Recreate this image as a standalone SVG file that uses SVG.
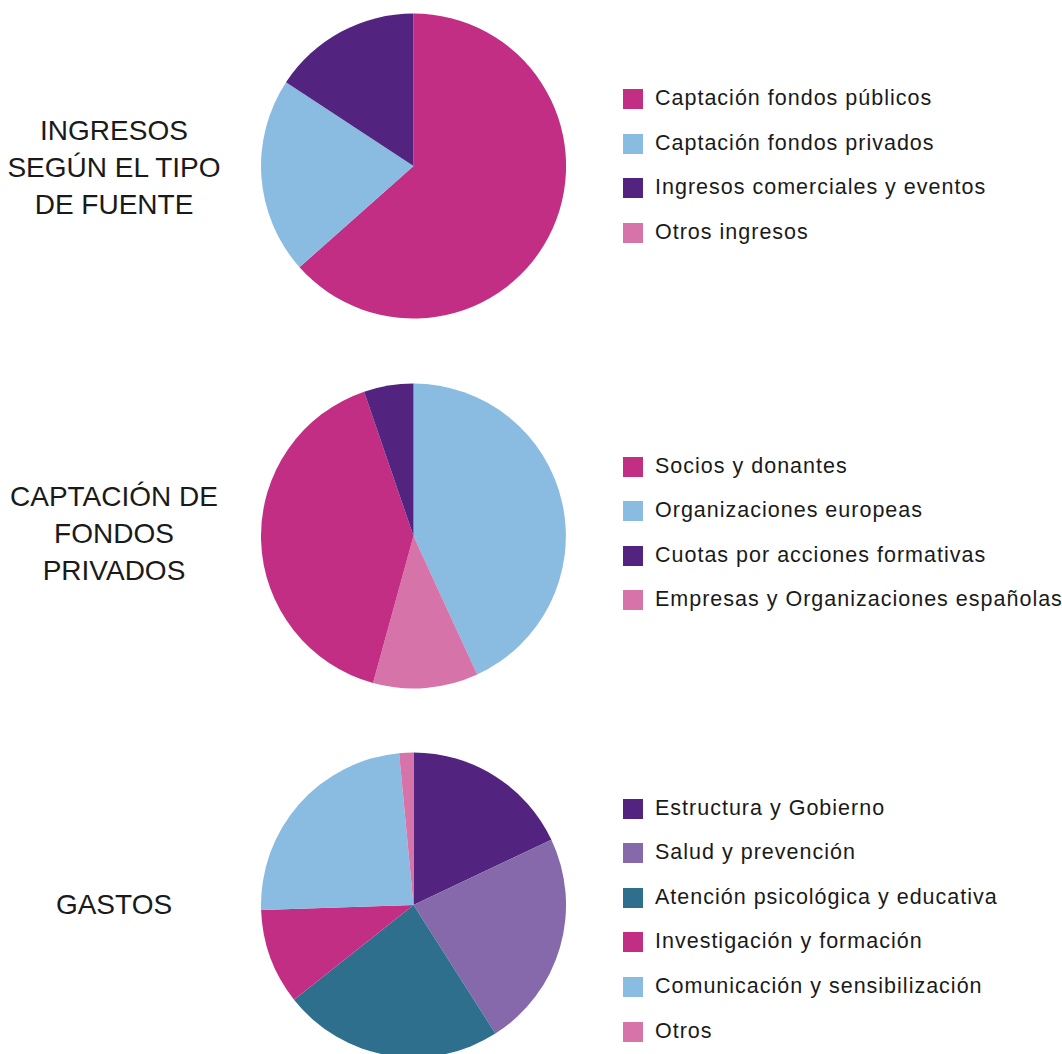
<svg xmlns="http://www.w3.org/2000/svg" width="1062" height="1054" viewBox="0 0 1062 1054">
<style>
.t{font-family:"Liberation Sans",Arial,sans-serif;fill:#1a1a1a}
.title{font-size:28px;text-anchor:middle}
.lg{font-size:21.5px;letter-spacing:1px}
.mg{fill:#C32E85}.lb{fill:#8ABBE0}.pu{fill:#52247F}.pk{fill:#D673A8}.lv{fill:#8569AB}.tl{fill:#2E6F8E}
</style>
<rect width="1062" height="1054" fill="#fff"/>

<g id="title-ingresos">
<text class="t title" x="114" y="140">INGRESOS</text>
<text class="t title" x="114" y="177">SEGÚN EL TIPO</text>
<text class="t title" x="114" y="214">DE FUENTE</text>
</g>
<g id="title-captacion">
<text class="t title" x="114" y="506">CAPTACIÓN DE</text>
<text class="t title" x="114" y="543">FONDOS</text>
<text class="t title" x="114" y="580">PRIVADOS</text>
</g>
<g id="title-gastos">
<text class="t title" x="114" y="914">GASTOS</text>
</g>

<g id="pie-ingresos">
<path class="mg" d="M413.5,166 L413.5,13.5 A152.5,152.5 0 1 1 299.5,267.2 Z"/>
<path class="lb" d="M413.5,166 L299.5,267.2 A152.5,152.5 0 0 1 286,82.3 Z"/>
<path class="pu" d="M413.5,166 L286,82.3 A152.5,152.5 0 0 1 413.5,13.5 Z"/>
</g>

<g id="pie-captacion">
<path class="lb" d="M413.5,536 L413.5,383.5 A152.5,152.5 0 0 1 477.2,674.5 Z"/>
<path class="pk" d="M413.5,536 L477.2,674.5 A152.5,152.5 0 0 1 373,683 Z"/>
<path class="mg" d="M413.5,536 L373,683 A152.5,152.5 0 0 1 364.1,391.7 Z"/>
<path class="pu" d="M413.5,536 L364.1,391.7 A152.5,152.5 0 0 1 413.5,383.5 Z"/>
</g>

<g id="pie-gastos">
<path class="pu" d="M413.5,905 L413.5,752.5 A152.5,152.5 0 0 1 551.4,839.8 Z"/>
<path class="lv" d="M413.5,905 L551.4,839.8 A152.5,152.5 0 0 1 495.4,1033.6 Z"/>
<path class="tl" d="M413.5,905 L495.4,1033.6 A152.5,152.5 0 0 1 294,999.7 Z"/>
<path class="mg" d="M413.5,905 L294,999.7 A152.5,152.5 0 0 1 261.1,910.1 Z"/>
<path class="lb" d="M413.5,905 L261.1,910.1 A152.5,152.5 0 0 1 399.1,753.2 Z"/>
<path class="pk" d="M413.5,905 L399.1,753.2 A152.5,152.5 0 0 1 413.5,752.5 Z"/>
</g>

<g id="legend-ingresos">
<rect class="mg" x="623" y="89" width="20" height="20"/><text class="t lg" x="655" y="105">Captación fondos públicos</text>
<rect class="lb" x="623" y="134" width="20" height="20"/><text class="t lg" x="655" y="150">Captación fondos privados</text>
<rect class="pu" x="623" y="178" width="20" height="20"/><text class="t lg" x="655" y="194">Ingresos comerciales y eventos</text>
<rect class="pk" x="623" y="223" width="20" height="20"/><text class="t lg" x="655" y="239">Otros ingresos</text>
</g>

<g id="legend-captacion">
<rect class="mg" x="623" y="457" width="20" height="20"/><text class="t lg" x="655" y="473">Socios y donantes</text>
<rect class="lb" x="623" y="501" width="20" height="20"/><text class="t lg" x="655" y="517">Organizaciones europeas</text>
<rect class="pu" x="623" y="546" width="20" height="20"/><text class="t lg" x="655" y="562">Cuotas por acciones formativas</text>
<rect class="pk" x="623" y="590" width="20" height="20"/><text class="t lg" x="655" y="606">Empresas y Organizaciones españolas</text>
</g>

<g id="legend-gastos">
<rect class="pu" x="623" y="799" width="20" height="20"/><text class="t lg" x="655" y="815">Estructura y Gobierno</text>
<rect class="lv" x="623" y="843" width="20" height="20"/><text class="t lg" x="655" y="859">Salud y prevención</text>
<rect class="tl" x="623" y="888" width="20" height="20"/><text class="t lg" x="655" y="904">Atención psicológica y educativa</text>
<rect class="mg" x="623" y="932" width="20" height="20"/><text class="t lg" x="655" y="948">Investigación y formación</text>
<rect class="lb" x="623" y="977" width="20" height="20"/><text class="t lg" x="655" y="993">Comunicación y sensibilización</text>
<rect class="pk" x="623" y="1022" width="20" height="20"/><text class="t lg" x="655" y="1038">Otros</text>
</g>

<g id="connectors"></g>
</svg>
